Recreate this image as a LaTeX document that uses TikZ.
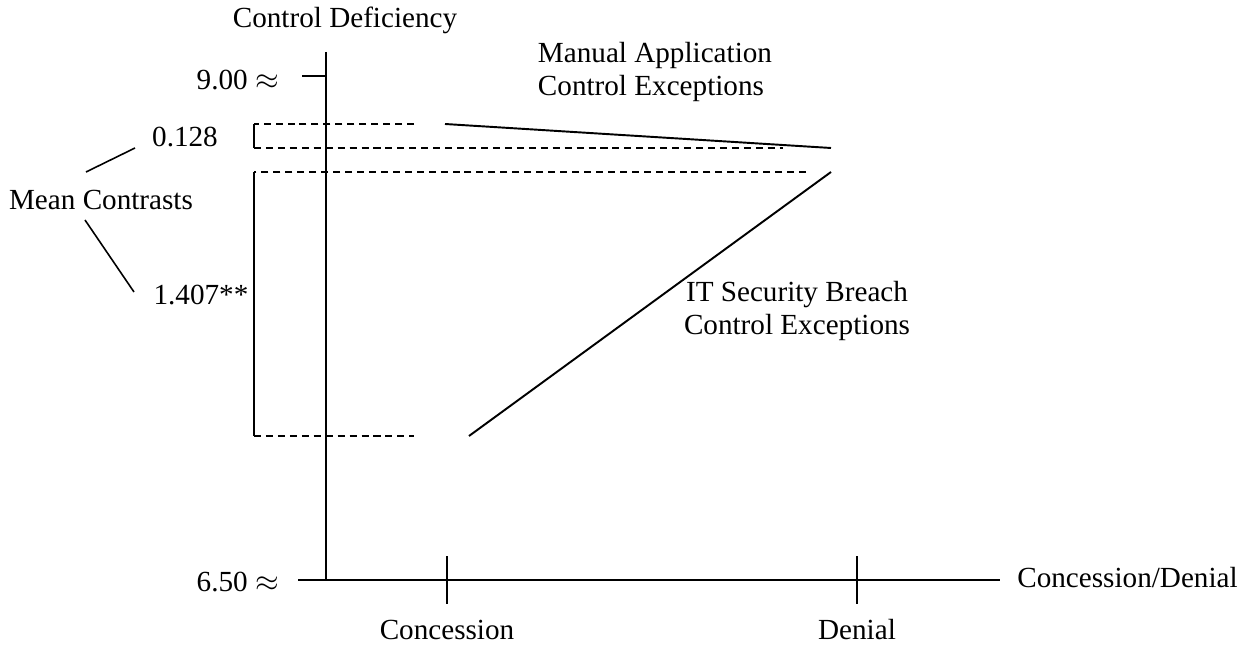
\documentclass[tikz,border=0pt]{standalone}
\usepackage{fontspec}
\setmainfont{Liberation Serif}
\usepackage{tikz}

\begin{document}
\begin{tikzpicture}[
    x=0.02cm, y=-0.02cm,
    lbl/.style={inner sep=0pt, font=\fontsize{16.6}{19}\selectfont},
    axis/.style={line width=1.1pt},
    guide/.style={line width=1.1pt, dash pattern=on 4pt off 2.8pt},
    trend/.style={line width=1.1pt},
    lead/.style={line width=0.9pt}
]
\useasboundingbox (0,0) rectangle (1254,648);

% axes
\coordinate (ytop) at (326,52);
\coordinate (orig) at (326,580);
\coordinate (xl) at (298,580);
\coordinate (xr) at (1000,580);
\draw[axis] (ytop) -- (orig);
\draw[axis] (xl) -- (xr);

% ticks
\coordinate (t9) at (302,76);
\coordinate (y9) at (326,76);
\draw[axis] (t9) -- (y9);
\coordinate (conctop) at (447,556);
\coordinate (concbot) at (447,604);
\coordinate (dentop) at (857,556);
\coordinate (denbot) at (857,604);
\draw[axis] (conctop) -- (concbot);
\draw[axis] (dentop) -- (denbot);

% axis labels
\node[lbl] (ylab) at (345,20) {Control Deficiency};
\node[lbl, anchor=east] (v900) at (279,80) {9.00 $\approx$};
\node[lbl, anchor=east] (v650) at (279,582) {6.50 $\approx$};
\node[lbl, anchor=west] (xlab) at (1017,578) {Concession/Denial};
\node[lbl] (lconc) at (447,630) {Concession};
\node[lbl] (lden) at (857,630) {Denial};

% cell means
\coordinate (mc) at (445,124);
\coordinate (md) at (831,148);
\coordinate (ic) at (469,436);
\coordinate (id) at (831,172);
\draw[trend] (mc) -- (md);
\draw[trend] (ic) -- (id);

% contrast brackets
\coordinate (b1) at (254,124);
\coordinate (b2) at (254,148);
\coordinate (b3) at (254,172);
\coordinate (b4) at (254,436);
\draw[guide] (414,124) -- (b1);
\draw[axis] (b1) -- (b2);
\draw[guide] (b2) -- (783,148);
\draw[guide] (806,172) -- (b3);
\draw[axis] (b3) -- (b4);
\draw[guide] (b4) -- (414,436);

% contrast labels
\node[lbl] (mean) at (101,200) {Mean Contrasts};
\node[lbl] (c1) at (185,137) {0.128};
\node[lbl] (c2) at (201,295) {1.407**};
\coordinate (m1) at (86,172);
\coordinate (m2) at (135,148);
\coordinate (m3) at (85,220);
\coordinate (m4) at (134,292);
\draw[lead] (m1) -- (m2);
\draw[lead] (m3) -- (m4);

% line labels
\node[lbl, align=left] (man) at (655,72) {Manual Application\\Control Exceptions};
\node[lbl, align=center] (its) at (797,311) {IT Security Breach\\Control Exceptions};
\end{tikzpicture}
\end{document}
